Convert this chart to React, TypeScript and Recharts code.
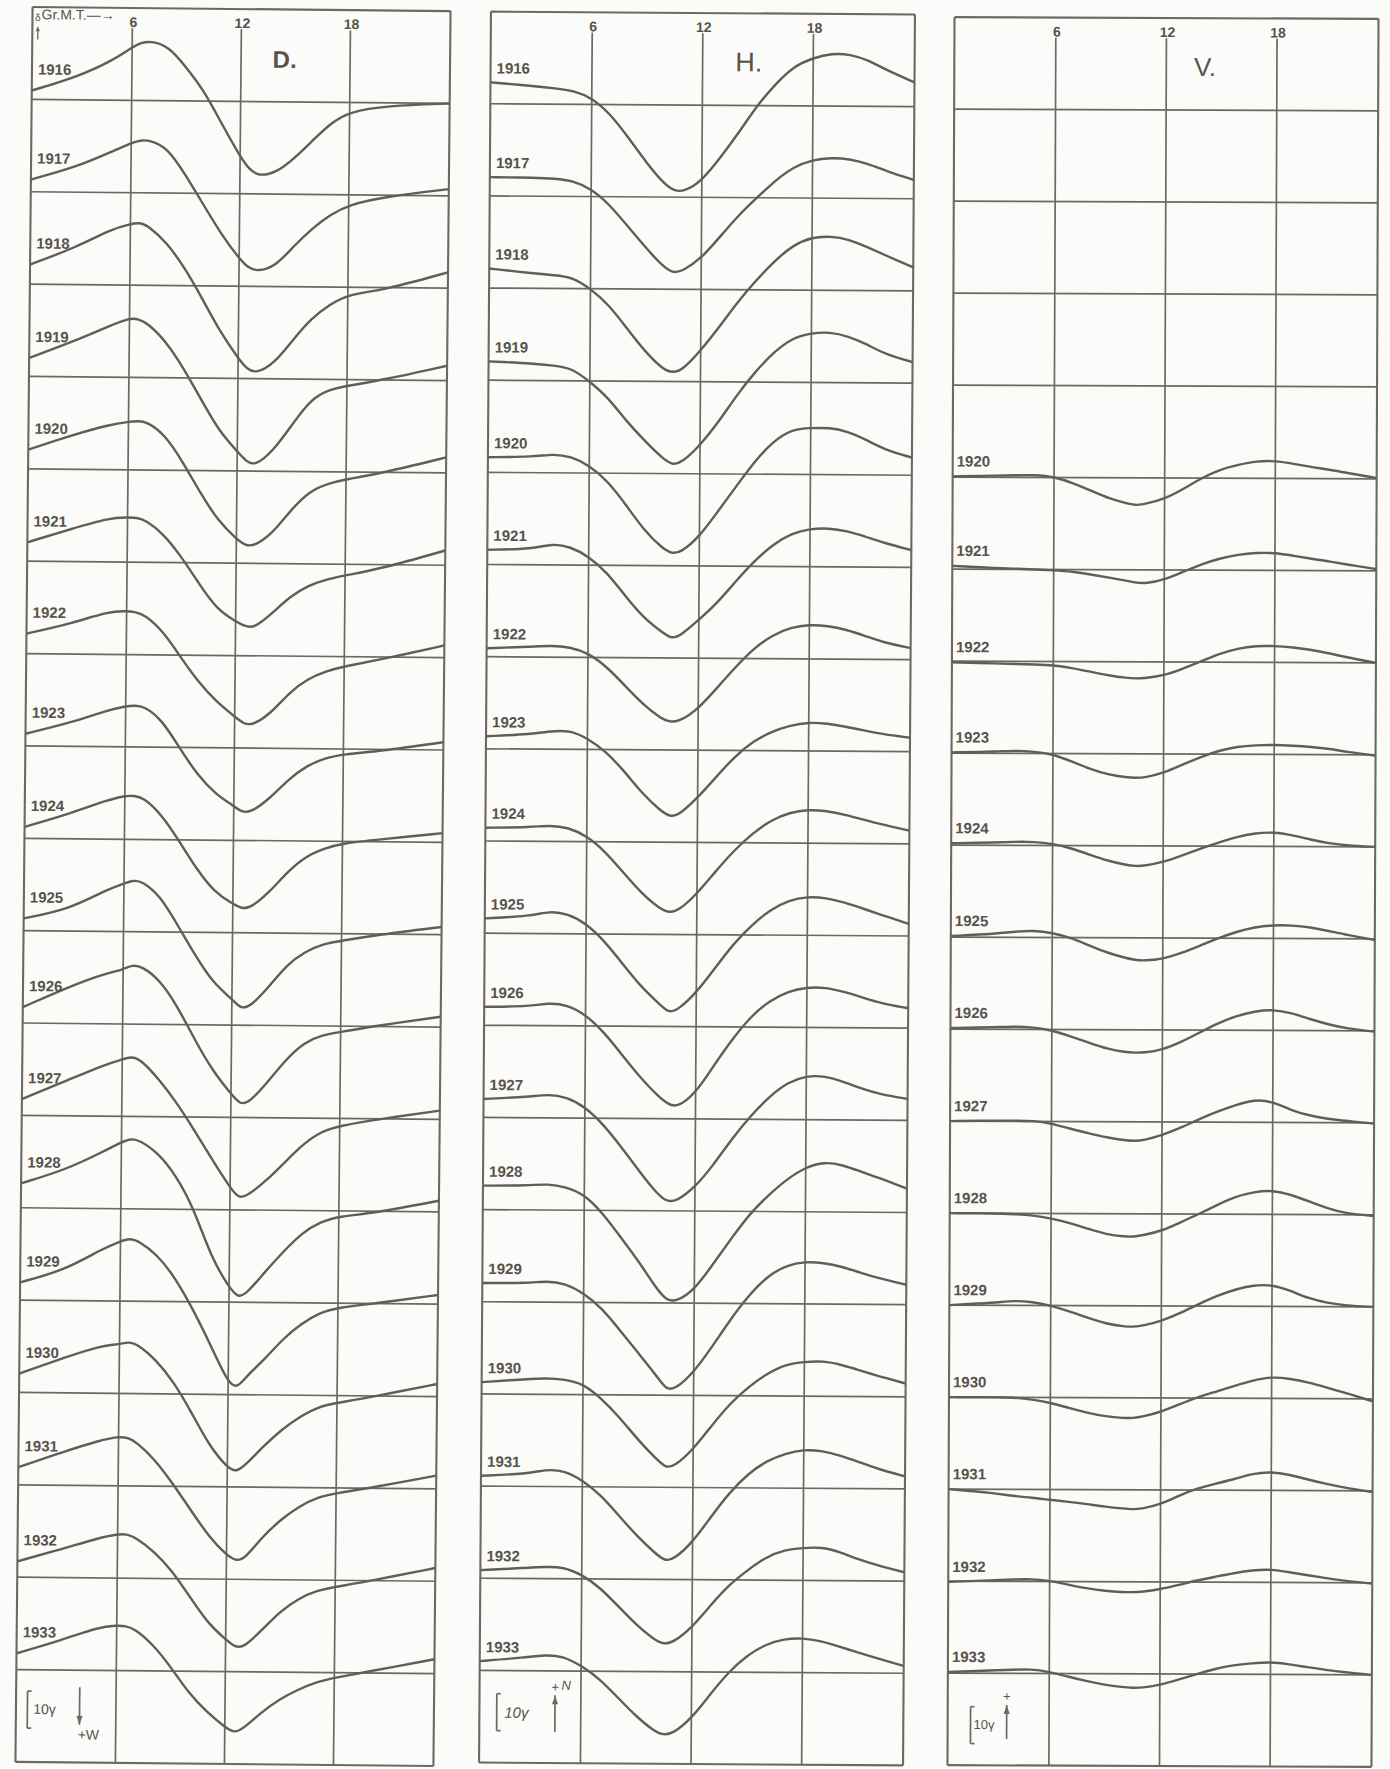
import React from 'react';
import { LineChart, Line, XAxis, YAxis, ReferenceLine, ReferenceDot } from 'recharts';

const INK = '#625e56';
const GRID = '#6d6961';
const TEXT = '#57534b';
const PAPER = '#fbfbf9';
const FONT = '"Liberation Sans", Arial, sans-serif';

const YEARS = [1916, 1917, 1918, 1919, 1920, 1921, 1922, 1923, 1924, 1925, 1926, 1927, 1928, 1929, 1930, 1931, 1932, 1933];
const ROW_GAMMA = 25;
const ROW_COUNT = 19;
const GRID_TOP = 5.5;
const HOUR_TICKS = [6, 12, 18];

// D (gamma, +W downward)
const D_HOURS = [0.5, 3, 5, 6, 6.5, 7, 8, 9, 10, 11, 12, 12.5, 13, 14, 15, 16, 17, 18, 20, 23.5];
const D1916 = [-2.4, -6.2, -10.9, -14.4, -15.6, -16.1, -14.8, -9.0, -2.7, 6.4, 14.9, 18.3, 20.2, 19.2, 15.2, 10.3, 5.5, 2.5, 0.8, 0.0];
const D1917 = [-3.3, -6.8, -11.2, -13.5, -14.2, -14.3, -12.3, -5.0, 3.0, 11.0, 17.5, 20.0, 21.0, 19.6, 14.0, 9.2, 5.4, 2.7, 0.4, -1.8];
const D1918 = [-5.3, -10.0, -15.2, -16.5, -17.0, -16.0, -11.7, -4.9, 3.5, 12.5, 19.5, 22.5, 23.6, 20.8, 14.4, 8.5, 4.8, 1.9, 0.7, -4.3];
const D1919 = [-5.0, -9.7, -14.1, -16.1, -15.8, -14.7, -10.0, -2.7, 5.9, 14.4, 19.7, 22.5, 23.6, 19.4, 12.4, 5.5, 2.8, 1.7, 0.0, -4.0];
const D1920 = [-5.2, -9.4, -12.2, -13.0, -13.2, -13.1, -9.7, -2.4, 6.2, 13.7, 18.4, 20.2, 20.3, 16.8, 10.3, 5.3, 3.2, 2.0, 0.2, -4.2];
const D1921 = [-5.1, -9.0, -11.9, -12.1, -12.1, -11.4, -7.7, -1.5, 5.9, 12.7, 15.7, 17.0, 17.6, 13.5, 8.8, 5.8, 4.1, 3.0, 1.1, -4.0];
const D1922 = [-5.4, -8.3, -11.6, -11.8, -11.5, -10.8, -6.5, 0.6, 7.4, 12.6, 16.5, 18.5, 18.8, 15.5, 9.8, 6.1, 4.0, 2.6, 0.7, -3.3];
const D1923 = [-3.3, -6.4, -9.9, -11.0, -11.2, -11.1, -7.5, 0.3, 7.5, 12.6, 15.7, 17.5, 17.2, 13.5, 8.3, 4.6, 2.5, 1.4, 0.5, -2.1];
const D1924 = [-3.1, -6.8, -10.5, -11.8, -11.8, -11.4, -7.0, 0.2, 8.0, 14.2, 17.2, 18.5, 18.2, 14.0, 8.3, 4.1, 2.0, 0.5, -0.6, -2.5];
const D1925 = [-3.3, -5.9, -11.2, -13.0, -13.9, -13.7, -9.8, -1.7, 6.6, 13.9, 17.9, 20.6, 20.0, 14.8, 8.5, 4.9, 2.8, 1.9, 0.2, -2.1];
const D1926 = [-4.3, -9.9, -13.6, -14.7, -16.0, -15.7, -12.2, -5.0, 4.3, 12.6, 18.6, 21.5, 21.0, 15.4, 9.2, 4.5, 2.4, 1.6, -0.2, -2.8];
const D1927 = [-4.4, -9.6, -13.9, -15.4, -16.2, -15.5, -10.3, -4.0, 3.5, 11.5, 19.0, 22.0, 21.0, 17.0, 12.0, 7.0, 3.5, 2.0, 0.2, -2.4];
const D1928 = [-6.6, -10.5, -15.4, -18.0, -19.0, -18.6, -15.3, -9.3, -0.5, 13.0, 21.0, 23.9, 22.5, 16.5, 11.0, 6.0, 3.0, 1.5, 0.5, -3.0];
const D1929 = [-4.8, -8.3, -14.1, -16.2, -17.0, -16.3, -12.8, -6.7, 1.8, 11.5, 22.0, 23.3, 20.0, 15.4, 9.7, 5.6, 2.6, 1.2, 0.0, -2.5];
const D1930 = [-5.1, -9.6, -12.9, -13.3, -14.0, -13.3, -9.3, -3.3, 4.9, 14.0, 19.8, 21.0, 19.0, 13.8, 9.2, 5.7, 3.0, 2.0, 0.2, -3.4];
const D1931 = [-4.8, -9.1, -12.3, -13.3, -13.1, -11.8, -7.3, -0.8, 6.3, 13.4, 18.5, 20.0, 19.5, 13.2, 8.6, 5.0, 2.5, 1.4, -0.2, -3.6];
const D1932 = [-4.3, -7.8, -10.9, -11.9, -12.0, -11.0, -7.4, -2.3, 4.8, 11.9, 16.3, 18.3, 18.5, 13.6, 8.5, 5.0, 2.8, 1.8, 0.0, -3.6];
const D1933 = [-4.4, -8.1, -11.7, -12.2, -12.1, -11.3, -7.2, -1.1, 6.0, 11.0, 15.0, 16.6, 15.5, 10.9, 7.3, 4.7, 2.6, 1.4, -0.5, -3.9];

// H and V (gamma, + upward)
const HV_HOURS = [0.5, 3, 4, 5, 6, 7, 8, 9, 10, 10.5, 11, 12, 13, 14, 15, 16, 17, 18, 19, 20, 21, 22, 23.5];
const H1916 = [5.8, 4.8, 4.3, 3.7, 1.8, -2.5, -8.9, -15.8, -21.7, -23.2, -23.6, -20.6, -14.2, -7.3, 0.2, 6.1, 10.9, 13.0, 14.3, 14.1, 12.5, 9.8, 6.6];
const H1917 = [5.1, 5.0, 4.8, 4.3, 2.1, -2.1, -8.0, -13.9, -19.2, -20.6, -20.0, -16.6, -10.7, -4.8, 0.0, 4.8, 8.5, 10.4, 11.0, 10.7, 9.4, 7.5, 5.1];
const H1918 = [5.3, 4.0, 3.6, 3.2, 0.0, -4.3, -10.7, -17.1, -21.9, -22.6, -22.0, -16.6, -10.2, -3.2, 2.7, 8.0, 12.3, 14.4, 14.7, 13.9, 11.8, 9.6, 6.4];
const H1919 = [5.1, 4.6, 4.1, 3.5, -0.2, -4.5, -10.9, -16.2, -21.0, -22.6, -22.1, -17.3, -10.9, -3.4, 3.0, 8.3, 12.1, 13.4, 13.7, 12.6, 10.5, 7.8, 5.7];
const H1920 = [4.1, 4.3, 5.1, 4.5, 2.1, -2.1, -8.5, -15.5, -20.3, -21.7, -21.4, -17.1, -10.1, -3.2, 3.7, 9.1, 12.3, 12.6, 12.8, 11.8, 9.6, 6.9, 4.8];
const H1921 = [4.0, 4.3, 5.8, 5.0, 2.4, -1.9, -8.3, -14.2, -18.0, -19.8, -19.0, -14.6, -10.0, -4.0, 1.5, 6.0, 9.0, 10.3, 10.5, 9.8, 8.3, 6.6, 4.7];
const H1922 = [2.3, 2.8, 3.1, 2.8, 1.2, -2.4, -7.5, -12.7, -16.5, -17.4, -17.2, -13.8, -8.1, -2.4, 2.8, 6.4, 8.5, 9.3, 9.0, 8.0, 6.4, 4.6, 3.1];
const H1923 = [3.4, 4.1, 4.9, 5.2, 3.1, -0.5, -5.7, -11.9, -16.5, -18.1, -17.6, -12.9, -7.2, -1.6, 2.6, 5.2, 6.9, 7.8, 7.5, 6.7, 5.7, 4.7, 3.8];
const H1924 = [3.6, 3.8, 4.4, 3.8, 1.6, -2.6, -8.3, -14.0, -18.1, -19.1, -18.6, -14.0, -7.8, -2.1, 2.6, 6.2, 8.3, 9.1, 8.8, 7.8, 6.5, 5.2, 3.6];
const H1925 = [4.0, 4.7, 6.1, 5.4, 2.8, -1.9, -8.1, -14.3, -18.9, -21.3, -20.5, -15.8, -9.1, -2.4, 2.8, 6.9, 9.5, 10.5, 10.2, 9.0, 7.4, 5.7, 3.3];
const H1926 = [5.0, 5.2, 6.2, 5.7, 3.1, -1.6, -7.8, -14.0, -19.1, -21.0, -22.0, -18.1, -10.3, -3.1, 3.1, 7.2, 9.8, 10.9, 10.9, 9.8, 8.3, 6.7, 5.4];
const H1927 = [5.0, 5.7, 6.4, 5.7, 3.1, -1.6, -7.8, -14.5, -20.7, -22.5, -22.4, -18.6, -12.4, -5.2, 1.0, 6.2, 10.1, 11.9, 11.9, 10.4, 8.5, 7.0, 5.8];
const H1928 = [6.5, 6.6, 7.1, 6.3, 4.3, -0.7, -7.3, -13.9, -21.5, -24.2, -24.7, -21.5, -14.4, -7.3, -0.5, 4.5, 8.9, 12.1, 13.6, 12.8, 11.0, 9.3, 6.5];
const H1929 = [5.1, 5.1, 5.8, 5.1, 2.5, -1.5, -7.6, -13.7, -19.8, -23.5, -23.4, -18.8, -11.7, -4.1, 2.5, 7.6, 10.5, 11.5, 11.2, 10.2, 8.6, 7.1, 5.4];
const H1930 = [3.2, 4.1, 4.4, 4.1, 3.0, -1.0, -6.1, -12.2, -17.3, -19.7, -19.3, -14.7, -8.1, -2.0, 2.5, 6.1, 8.6, 9.3, 9.6, 8.6, 7.1, 5.6, 3.6];
const H1931 = [2.8, 3.4, 4.6, 4.4, 1.8, -2.2, -7.8, -13.4, -18.0, -20.0, -19.5, -14.9, -7.8, -1.2, 3.9, 7.4, 9.4, 10.5, 10.2, 8.9, 7.2, 5.4, 3.4];
const H1932 = [2.2, 2.9, 3.2, 3.2, 1.2, -2.3, -7.4, -12.5, -16.5, -17.6, -17.0, -13.0, -6.9, -1.3, 2.7, 6.3, 8.3, 8.8, 9.1, 7.8, 5.8, 4.3, 2.4];
const H1933 = [2.5, 3.6, 4.3, 4.1, 1.5, -2.0, -7.1, -12.2, -16.2, -17.2, -16.8, -12.7, -6.1, 0.0, 4.6, 7.6, 9.1, 9.4, 8.6, 7.1, 5.6, 4.1, 2.0];

const V1920 = [0.2, 0.5, 0.6, 0.7, 0.2, -1.4, -3.5, -5.7, -7.0, -7.5, -7.0, -5.7, -3.0, 0.0, 2.4, 3.7, 4.7, 4.8, 4.0, 3.1, 2.4, 1.5, 0.2];
const V1921 = [0.9, 0.3, 0.2, 0.0, -0.2, -0.5, -1.3, -2.1, -3.0, -3.5, -3.7, -2.7, -0.5, 1.6, 3.2, 4.3, 4.8, 4.8, 4.0, 3.2, 2.5, 1.6, 0.5];
const V1922 = [-0.3, -0.6, -0.7, -0.8, -1.0, -1.7, -2.7, -3.7, -4.4, -4.5, -4.4, -3.7, -1.9, 0.2, 2.3, 3.8, 4.5, 4.5, 4.1, 3.5, 2.5, 1.4, 0.0];
const V1923 = [0.2, 0.5, 0.8, 0.5, -0.2, -2.1, -4.1, -5.7, -6.4, -6.5, -6.4, -5.2, -2.9, -0.8, 1.0, 2.1, 2.5, 2.6, 2.4, 2.1, 1.6, 0.7, -0.2];
const V1924 = [0.5, 0.8, 1.0, 1.0, 0.5, -0.7, -2.4, -4.1, -5.2, -5.5, -5.4, -4.4, -2.6, -0.7, 1.0, 2.6, 3.6, 3.9, 3.1, 1.9, 0.9, 0.3, 0.0];
const V1925 = [0.3, 1.0, 1.6, 1.9, 1.3, 0.0, -2.1, -4.1, -5.5, -6.0, -6.2, -5.7, -4.1, -2.1, 0.0, 1.8, 3.1, 3.6, 3.6, 3.1, 2.1, 1.0, -0.3];
const V1926 = [0.3, 0.6, 0.8, 0.6, -0.2, -1.8, -3.5, -5.2, -6.1, -6.2, -6.2, -5.4, -3.3, -0.7, 1.9, 3.9, 5.2, 5.7, 4.8, 3.1, 1.7, 0.6, -0.2];
const V1927 = [0.0, 0.2, 0.2, 0.2, -0.5, -1.9, -3.1, -4.3, -5.0, -5.2, -5.0, -3.6, -1.6, 0.8, 2.9, 4.7, 6.2, 5.7, 3.3, 1.9, 1.0, 0.5, -0.2];
const V1928 = [0.0, 0.0, -0.2, -0.5, -1.3, -2.5, -4.1, -5.6, -6.2, -6.2, -5.8, -4.6, -2.3, 0.0, 2.5, 4.8, 6.1, 6.6, 5.4, 3.6, 1.7, 0.3, -0.3];
const V1929 = [0.0, 0.7, 1.3, 1.0, 0.0, -1.5, -3.3, -4.9, -5.6, -5.7, -5.4, -4.1, -2.0, 0.5, 2.8, 4.6, 5.8, 5.9, 4.3, 2.2, 1.0, 0.3, 0.0];
const V1930 = [0.0, 0.0, 0.0, -0.5, -1.4, -2.8, -4.1, -5.1, -5.5, -5.5, -5.1, -3.8, -1.7, 0.3, 1.8, 3.4, 4.9, 5.9, 5.4, 4.4, 3.0, 1.6, -0.7];
const V1931 = [0.0, -1.0, -1.8, -2.2, -2.8, -3.3, -3.9, -4.6, -5.1, -5.3, -5.1, -3.9, -1.5, 0.5, 1.8, 3.0, 4.6, 5.1, 4.3, 3.0, 1.8, 0.8, -0.3];
const V1932 = [-0.2, 0.3, 0.5, 0.7, 0.2, -0.8, -1.8, -2.5, -2.8, -2.8, -2.7, -2.0, -0.8, 0.5, 1.5, 2.5, 3.3, 3.6, 2.8, 2.0, 1.2, 0.5, -0.2];
const V1933 = [0.3, 0.8, 1.0, 1.2, 0.5, -0.8, -2.0, -3.0, -3.6, -3.8, -3.8, -3.0, -1.5, 0.0, 1.5, 2.5, 3.0, 3.4, 2.8, 2.0, 1.3, 0.7, 0.0];

const D_SERIES = [D1916, D1917, D1918, D1919, D1920, D1921, D1922, D1923, D1924, D1925, D1926, D1927, D1928, D1929, D1930, D1931, D1932, D1933];
const H_SERIES = [H1916, H1917, H1918, H1919, H1920, H1921, H1922, H1923, H1924, H1925, H1926, H1927, H1928, H1929, H1930, H1931, H1932, H1933];
const V_YEARS = [1920, 1921, 1922, 1923, 1924, 1925, 1926, 1927, 1928, 1929, 1930, 1931, 1932, 1933];
const V_SERIES = [V1920, V1921, V1922, V1923, V1924, V1925, V1926, V1927, V1928, V1929, V1930, V1931, V1932, V1933];

const M = 3;

type Legend = {
  bx: number; by: number;
  tx: number; ty: number; italic?: boolean; tsize: number;
  ax: number; aTop: number; aBot: number; down: boolean;
  plus: { x: number; y: number; text: string; size: number }[];
};

type Spec = {
  key: string; title: string; titleX: number; titleY: number; titleSize: number; titleWeight: number;
  hours: number[]; years: number[]; series: number[][]; sign: number;
  left: number; top: number; width: number; height: number; rotate: number;
  labelDx: number; labelDy: number; legend: Legend; gmt?: boolean;
};

const txt = (s: string, size: number, opts: any = {}) => (p: any) => (
  <text x={p.cx + (opts.dx || 0)} y={p.cy + (opts.dy || 0)} fontSize={size} fill={TEXT} fontFamily={FONT}
    textAnchor={opts.anchor || 'start'} dominantBaseline={opts.baseline || 'auto'}
    fontWeight={opts.weight || 400} fontStyle={opts.italic ? 'italic' : 'normal'}>
    {s}
  </text>
);

function Panel({ spec }: { spec: Spec }) {
  const data = spec.hours.map((h, i) => {
    const row: any = { h };
    spec.years.forEach((yr, k) => {
      const base = ROW_GAMMA * (YEARS.indexOf(yr) + 1);
      row['y' + yr] = base + spec.sign * spec.series[k][i];
    });
    return row;
  });
  const baselines = YEARS.map((_, i) => ROW_GAMMA * (i + 1));
  const bottom = ROW_GAMMA * ROW_COUNT;
  const L = spec.legend;
  const lineStyle = { stroke: GRID, strokeWidth: 1.7 };
  return (
    <div style={{ position: 'absolute', left: spec.left - M, top: spec.top - M, width: spec.width + 2 * M, height: spec.height + 2 * M, transform: `rotate(${spec.rotate}deg)`, transformOrigin: 'center center' }}>
      <LineChart width={spec.width + 2 * M} height={spec.height + 2 * M} data={data} margin={{ top: M, right: M, bottom: M, left: M }}>
        <XAxis dataKey="h" type="number" domain={[0.5, 23.5]} ticks={HOUR_TICKS} hide allowDataOverflow />
        <YAxis type="number" domain={[0, bottom]} reversed hide allowDataOverflow />
        <ReferenceLine x={0.5} stroke={GRID} strokeWidth={2.1} />
        <ReferenceLine x={23.5} stroke={GRID} strokeWidth={2.1} />
        <ReferenceLine y={0} stroke={GRID} strokeWidth={2.1} />
        <ReferenceLine y={bottom} stroke={GRID} strokeWidth={2.1} />
        {baselines.map((b) => (
          <ReferenceLine key={'b' + b} y={b} {...lineStyle} />
        ))}
        {HOUR_TICKS.map((h) => (
          <ReferenceLine key={'v' + h} segment={[{ x: h, y: GRID_TOP }, { x: h, y: bottom }]} {...lineStyle} />
        ))}
        {HOUR_TICKS.map((h) => (
          <ReferenceDot key={'hl' + h} x={h} y={0} r={0}
            shape={txt(String(h), 14, { anchor: 'middle', dx: 1, dy: 19, weight: 700 })} />
        ))}
        {spec.years.map((yr) => (
          <Line key={'l' + yr} dataKey={'y' + yr} type="basis" stroke={INK} strokeWidth={2.4} dot={false} activeDot={false} isAnimationActive={false} />
        ))}
        {spec.years.map((yr, k) => (
          <ReferenceDot key={'t' + yr} x={0.5} y={ROW_GAMMA * (YEARS.indexOf(yr) + 1) + spec.sign * spec.series[k][0]} r={0}
            shape={txt(String(yr), 15, { dx: spec.labelDx, dy: -spec.labelDy, weight: 700 })} />
        ))}
        <ReferenceDot x={spec.titleX} y={spec.titleY} r={0}
          shape={txt(spec.title, spec.titleSize, { anchor: 'middle', baseline: 'central', weight: spec.titleWeight })} />
        {/* scale bracket: 10 gamma */}
        <ReferenceLine segment={[{ x: L.bx, y: L.by }, { x: L.bx, y: L.by + 10 }]} stroke={GRID} strokeWidth={1.7} />
        <ReferenceLine segment={[{ x: L.bx, y: L.by }, { x: L.bx + 0.22, y: L.by }]} stroke={GRID} strokeWidth={1.7} />
        <ReferenceLine segment={[{ x: L.bx, y: L.by + 10 }, { x: L.bx + 0.22, y: L.by + 10 }]} stroke={GRID} strokeWidth={1.7} />
        <ReferenceDot x={L.tx} y={L.ty} r={0} shape={txt('10γ', L.tsize, { baseline: 'central', italic: L.italic })} />
        <ReferenceLine segment={[{ x: L.ax, y: L.aTop }, { x: L.ax, y: L.aBot }]} stroke={GRID} strokeWidth={1.7} />
        <ReferenceDot x={L.ax} y={L.down ? L.aBot : L.aTop} r={0}
          shape={(p: any) => (
            <path d={L.down
              ? `M${p.cx - 3},${p.cy - 9} L${p.cx},${p.cy} L${p.cx + 3},${p.cy - 9} Z`
              : `M${p.cx - 3},${p.cy + 9} L${p.cx},${p.cy} L${p.cx + 3},${p.cy + 9} Z`} fill={GRID} />
          )} />
        {L.plus.map((pl, i) => (
          <ReferenceDot key={'p' + i} x={pl.x} y={pl.y} r={0} shape={txt(pl.text, pl.size, { anchor: 'middle', baseline: 'central', italic: L.italic })} />
        ))}
        {spec.gmt && (
          <ReferenceDot x={1.0} y={3.3} r={0} shape={txt('Gr.M.T.—→', 14, {})} />
        )}
        {spec.gmt && <ReferenceDot x={0.8} y={3.8} r={0} shape={txt('δ', 10, { anchor: 'middle' })} />}
        {spec.gmt && <ReferenceLine segment={[{ x: 0.8, y: 5.6 }, { x: 0.8, y: 8.8 }]} stroke={GRID} strokeWidth={1.3} />}
        {spec.gmt && (
          <ReferenceDot x={0.8} y={5.2} r={0} shape={(p: any) => (
            <path d={`M${p.cx - 2.2},${p.cy + 5} L${p.cx},${p.cy} L${p.cx + 2.2},${p.cy + 5} Z`} fill={GRID} />
          )} />
        )}
      </LineChart>
    </div>
  );
}

const SPECS: Spec[] = [
  {
    key: 'D', title: 'D.', titleX: 14.4, titleY: 13.5, titleSize: 24, titleWeight: 700,
    hours: D_HOURS, years: YEARS, series: D_SERIES, sign: 1,
    left: 23.75, top: 9, width: 418, height: 1755, rotate: 0.56,
    labelDx: 6, labelDy: 16, gmt: true,
    legend: { bx: 1.13, by: 455.8, tx: 1.45, ty: 460.6, tsize: 14, ax: 4.0, aTop: 454.6, aBot: 464.8, down: true,
      plus: [{ x: 4.5, y: 467.4, text: '+W', size: 14 }] },
  },
  {
    key: 'H', title: 'H.', titleX: 14.5, titleY: 13.3, titleSize: 27, titleWeight: 400,
    hours: HV_HOURS, years: YEARS, series: H_SERIES, sign: -1,
    left: 485, top: 13, width: 424, height: 1751, rotate: 0.39,
    labelDx: 6, labelDy: 9,
    legend: { bx: 1.44, by: 456.3, tx: 1.85, ty: 461.3, tsize: 15, italic: true, ax: 4.6, aTop: 456.6, aBot: 466.6, down: false,
      plus: [{ x: 4.6, y: 454.4, text: '+', size: 13 }, { x: 5.2, y: 453.9, text: 'N', size: 13 }] },
  },
  {
    key: 'V', title: 'V.', titleX: 14.1, titleY: 13.3, titleSize: 26, titleWeight: 400,
    hours: HV_HOURS, years: V_YEARS, series: V_SERIES, sign: -1,
    left: 950.5, top: 18, width: 424, height: 1748, rotate: 0.23,
    labelDx: 4, labelDy: 10,
    legend: { bx: 1.74, by: 459.1, tx: 1.9, ty: 463.9, tsize: 13, ax: 3.7, aTop: 458.6, aBot: 467.8, down: false,
      plus: [{ x: 3.7, y: 456.2, text: '+', size: 13 }] },
  },
];

export default function App() {
  return (
    <div style={{ position: 'absolute', left: 0, top: 0, width: 1390, height: 1769, background: PAPER, overflow: 'hidden' }}>
      {SPECS.map((s) => (
        <Panel key={s.key} spec={s} />
      ))}
    </div>
  );
}
